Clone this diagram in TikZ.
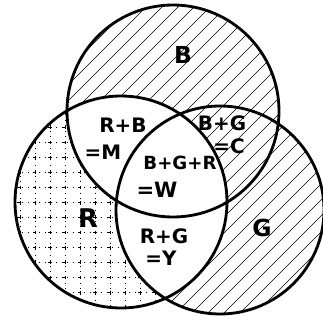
\documentclass[tikz,border=0pt]{standalone}
\usepackage{fontspec}
\setsansfont{DejaVu Sans}
\begin{document}
\begin{tikzpicture}[x=0.03cm,y=0.03cm,
  rim/.style={line width=2.4pt},
  hatch/.style={line width=0.5pt},
  lbl/.style={font=\sffamily\bfseries\fontsize{17}{20}\selectfont,inner sep=0pt},
  sml/.style={font=\sffamily\bfseries\fontsize{15.5}{18}\selectfont,inner sep=0pt}]
  \useasboundingbox (0,0) rectangle (322,323);
  \coordinate (cB) at (173,212);
  \coordinate (cR) at (121,121);
  \coordinate (cG) at (220,113);
  % red: dotted grid
  \begin{scope}
    \clip (cR) circle (106);
    \foreach \gx in {5,20,...,230}
      \draw[line width=0.4pt,dash pattern=on 0.8pt off 4pt] (\gx,0)--(\gx,240);
    \foreach \gy in {16,31,...,226}
      \draw[line width=0.4pt,dash pattern=on 0.8pt off 4pt] (0,\gy)--(240,\gy);
    \foreach \gx in {5,20,...,230}
      \foreach \gy in {16,31,...,226}
        \draw[line width=0.7pt] (\gx-1.5,\gy)--(\gx+1.5,\gy) (\gx,\gy-1.5)--(\gx,\gy+1.5);
  \end{scope}
  % blue and green: hatching
  \begin{scope}
    \clip (cB) circle (106) (cG) circle (104);
    \foreach \k in {-330,-314,...,330}
      \draw[hatch] (\k,0)--++(330,330);
  \end{scope}
  \begin{scope}
    \clip (cR) circle (106);
    \fill[white] (cB) circle (106) (cG) circle (104);
  \end{scope}
  \draw[rim] (cB) circle (106);
  \draw[rim] (cR) circle (106);
  \draw[rim] (cG) circle (104);
  \node[lbl,font=\sffamily\bfseries\fontsize{20}{24}\selectfont] (lB) at (183,268) {B};
  \node[lbl,font=\sffamily\bfseries\fontsize{22}{26}\selectfont] (lR) at (88,105) {R};
  \node[lbl,font=\sffamily\bfseries\fontsize{20}{24}\selectfont] (lG) at (262,95) {G};
  \node[lbl] (lRB) at (123,198) {R+B};
  \node[lbl] (lM) at (103,171) {=M};
  \node[lbl] (lBG) at (222,200) {B+G};
  \node[lbl] (lC) at (229,177) {=C};
  \node[sml] (lBGR) at (180,160) {B+G+R};
  \node[lbl,font=\sffamily\bfseries\fontsize{18}{21}\selectfont] (lW) at (157,133) {=W};
  \node[lbl] (lRG) at (164,87) {R+G};
  \node[lbl] (lY) at (161,65) {=Y};
\end{tikzpicture}
\end{document}
